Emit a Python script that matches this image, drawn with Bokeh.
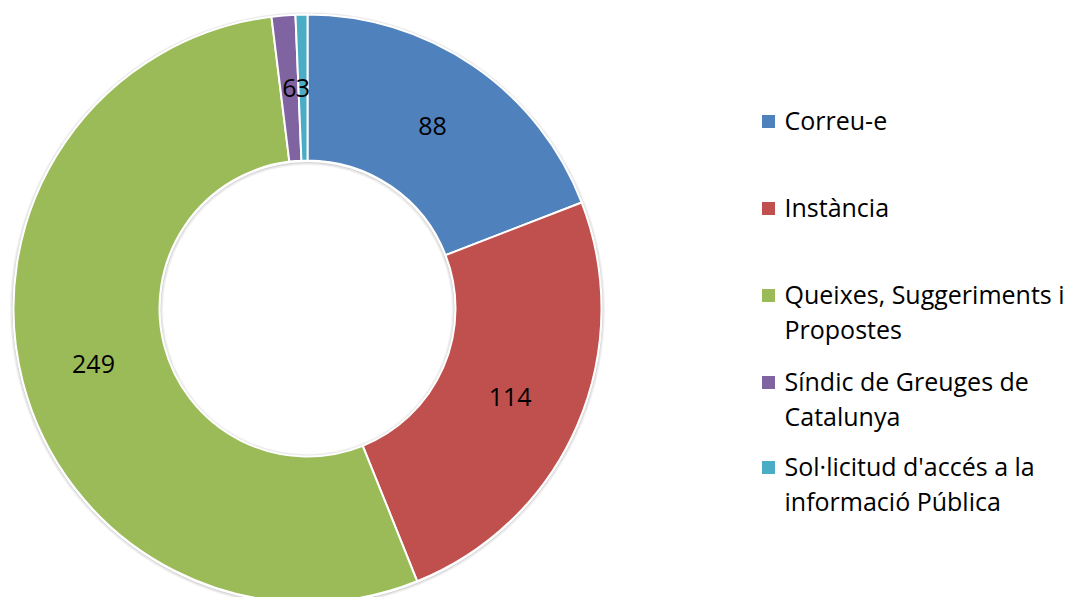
import math
from bokeh.plotting import figure
from bokeh.models import Range1d, ColumnDataSource
from bokeh.core.properties import value
from bokeh.embed import file_html
from bokeh.resources import INLINE

# ---- data ----
categories = [
    "Correu-e",
    "Instància",
    "Queixes, Suggeriments i Propostes",
    "Síndic de Greuges de Catalunya",
    "Sol·licitud d'accés a la informació Pública",
]
values = [88, 114, 249, 6, 3]
legend_lines = [
    ["Correu-e"],
    ["Instància"],
    ["Queixes, Suggeriments i", "Propostes"],
    ["Síndic de Greuges de", "Catalunya"],
    ["Sol·licitud d'accés a la", "informació Pública"],
]
colors = ["#4F81BD", "#C0504D", "#9BBB59", "#8064A2", "#4BACC6"]

# ---- layout (reference pixels; data y = REF_H - ref y) ----
W, H = 1065, 597
REF_H = 605
FONT = "Open Sans"
FS = "25px"
cx, cy = 307, REF_H - 308
r_out, r_in = 294, 148

total = sum(values)
starts, ends, lx, ly = [], [], [], []
cum = 0
for v in values:
    a0 = math.pi / 2 - 2 * math.pi * cum / total
    cum += v
    a1 = math.pi / 2 - 2 * math.pi * cum / total
    starts.append(a0)
    ends.append(a1)
    mid = (a0 + a1) / 2
    rm = (r_out + r_in) / 2
    lx.append(cx + rm * math.cos(mid))
    ly.append(cy + rm * math.sin(mid))

src = ColumnDataSource(dict(
    start=starts, end=ends, color=colors, cat=categories,
    lx=lx, ly=ly, lab=[str(v) for v in values],
    x=[cx] * len(values), y=[cy] * len(values),
))

p = figure(width=W, height=H, output_backend="svg", toolbar_location=None,
           x_range=Range1d(0, W), y_range=Range1d(REF_H - H, REF_H),
           x_axis_location=None, y_axis_location=None, min_border=0)
p.grid.visible = False
p.outline_line_color = None
p.background_fill_color = "white"

# soft shadow rings
for i, a in enumerate([0.35, 0.2, 0.1]):
    p.circle(x=[cx], y=[cy - 1], radius=r_out + 1 + i, fill_color=None,
             line_color="#808080", line_alpha=a, line_width=1)
    p.circle(x=[cx], y=[cy - 1], radius=r_in - 1 - i, fill_color=None,
             line_color="#808080", line_alpha=a, line_width=1)

p.annular_wedge(x="x", y="y", inner_radius=r_in, outer_radius=r_out,
                start_angle="start", end_angle="end", direction="clock",
                fill_color="color", line_color="white", line_width=2, source=src)

p.text(x="lx", y="ly", text="lab", source=src, text_align="center",
       text_baseline="middle", text_font=value(FONT), text_font_size=FS,
       text_color="black")

# legend
entry_y = [121, 208, 295, 382, 467]
line_gap = 35
sq_x, txt_x = 768, 784
p.rect(x=[sq_x] * len(colors), y=[REF_H - y for y in entry_y], width=13, height=13,
       fill_color=colors, line_color=None)
tx, ty, tt = [], [], []
for lines, y0 in zip(legend_lines, entry_y):
    for j, t in enumerate(lines):
        tx.append(txt_x)
        ty.append(REF_H - (y0 - 2 + j * line_gap))
        tt.append(t)
p.text(x=tx, y=ty, text=tt, text_align="left", text_baseline="middle",
       text_font=value(FONT), text_font_size=FS, text_color="black")

open("out.html", "w").write(file_html(p, INLINE))
